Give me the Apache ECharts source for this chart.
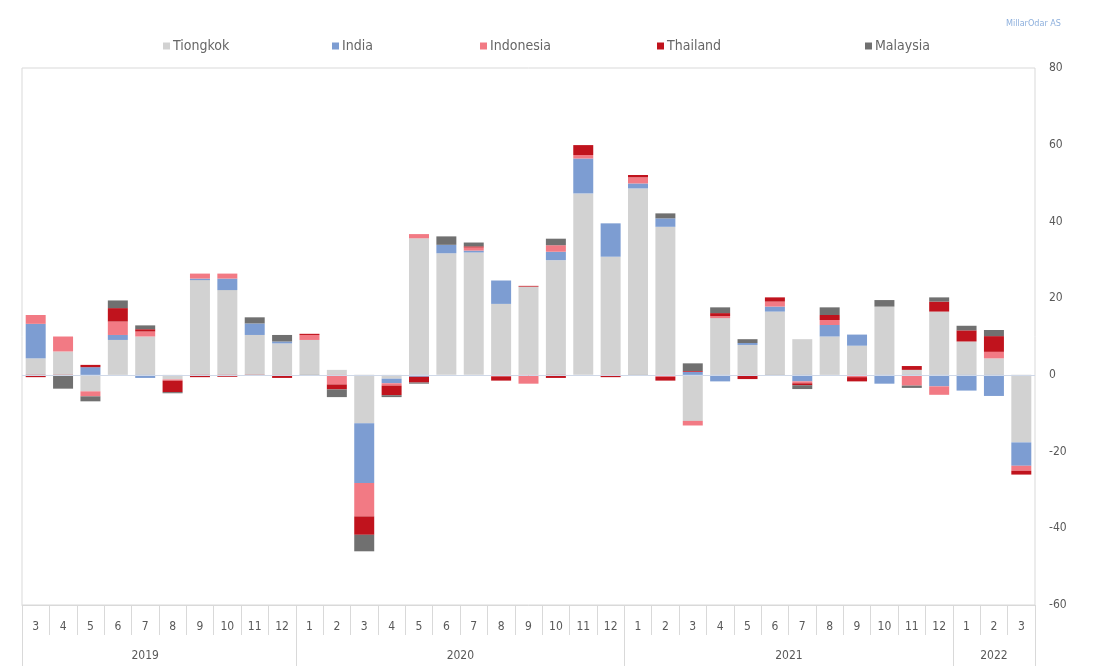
<!DOCTYPE html>
<html>
<head>
<meta charset="utf-8">
<script src="https://cdn.jsdelivr.net/npm/echarts@6/dist/echarts.min.js"></script>
<style>
html,body{margin:0;padding:0;background:#fff;}
#chart{width:1094px;height:666px;}
</style>
</head>
<body>
<div id="chart"></div>
<script>
// Month of each bar (2019-3 .. 2022-3)
const months = [3,4,5,6,7,8,9,10,11,12, 1,2,3,4,5,6,7,8,9,10,11,12, 1,2,3,4,5,6,7,8,9,10,11,12, 1,2,3];
const years  = [2019,2019,2019,2019,2019,2019,2019,2019,2019,2019,
                2020,2020,2020,2020,2020,2020,2020,2020,2020,2020,2020,2020,
                2021,2021,2021,2021,2021,2021,2021,2021,2021,2021,2021,2021,
                2022,2022,2022];
const yearLabels = ['2019','2020','2021','2022'];
const yTicks = [-60,-40,-20,0,20,40,60,80];

const seriesNames = ['Tiongkok','India','Indonesia','Thailand','Malaysia'];
const tiongkok  = [4.3,6.1,-4.3,9.1,10.0,-1.2,24.7,22.1,10.4,8.2, 9.1,1.3,-12.6,-1.0,35.6,31.7,31.9,18.5,23.0,29.9,47.3,30.8, 48.6,38.6,-12.0,14.8,7.8,16.5,9.3,10.0,7.6,17.8,1.3,16.5, 8.7,4.3,-17.6];
const india     = [9.0,0,2.0,1.3,-0.8,0,0.4,3.0,3.0,0.5, 0,0,-15.6,-1.2,-0.5,2.2,0.5,6.1,0,2.2,9.1,8.7, 1.3,2.2,0.8,-1.7,0.5,1.3,-1.7,3.0,2.9,-2.3,-0.3,-3.0, -4.1,-5.5,-6.1];
const indonesia = [2.3,3.9,-1.3,3.5,1.3,-0.3,1.3,1.3,0,-0.3, 1.3,-2.5,-8.7,-0.6,1.1,0,0.8,-0.4,-2.3,1.7,0.9,-0.3, 1.6,-0.5,-1.2,0.5,-0.3,1.3,-0.5,1.3,-0.6,0,-2.5,-2.2, 0,1.7,-1.3];
const thailand  = [-0.6,-0.3,0.6,3.5,0.6,-3.0,-0.6,-0.5,-0.3,-0.5, 0.3,-1.3,-4.8,-2.5,-1.5,0,0.3,-1.1,0.2,-0.8,2.6,-0.3, 0.6,-1.0,0.2,0.8,-0.8,1.1,-0.5,1.3,-1.1,0,1.0,2.6, 2.9,4.1,-1.0];
const malaysia  = [0,-3.3,-1.3,2.0,1.0,-0.3,0,0,1.6,1.7, -0.3,-2.0,-4.3,-0.5,-0.3,2.2,1.0,0,0,1.7,0,0, -0.3,1.3,2.0,1.5,1.0,-0.3,-1.0,2.0,0,1.7,-0.6,1.1, 1.2,1.6,0];
const seriesData = [tiongkok, india, indonesia, thailand, malaysia];
const colors = ['#d2d2d2','#7d9dd2','#f27a84','#c0131d','#707070'];

const FONT = "'Liberation Sans Narrow','DejaVu Sans Condensed','Liberation Sans',sans-serif";
const TXT = '#595959';
const LINE = '#d9d9d9';

const categories = months.map((m,i)=> years[i] + '-' + m);

// which category carries each year label, and whether it is shifted half a band right
const yearLabelAt = {4: {label: yearLabels[0], half: false},
                     15: {label: yearLabels[1], half: true},
                     27: {label: yearLabels[2], half: true},
                     35: {label: yearLabels[3], half: false}};

const legendLeft = [158, 327, 475, 652, 860];

const chart = echarts.init(document.getElementById('chart'), null, {renderer:'canvas'});
const option = {
  backgroundColor: '#fff',
  animation: false,
  title: {
    text: 'MillarOdar AS',
    right: 28, top: 14,
    textStyle: {fontSize: 9, color: '#8eb0dd', fontWeight: 'normal', fontFamily: FONT}
  },
  legend: seriesNames.map((n,i)=>({
    data: [n],
    left: legendLeft[i], top: 34,
    itemWidth: 7, itemHeight: 7, icon: 'rect', itemGap: 4,
    textStyle: {fontSize: 14, color: '#666666', fontFamily: FONT, padding: [0,0,0,-2]}
  })),
  grid: [
    {left: 22, right: 59, top: 68, bottom: 61, show: true, borderColor: LINE, borderWidth: 1},
    {left: 22, right: 59, top: 68, bottom: 61, show: false}
  ],
  xAxis: [
    {
      type: 'category', gridIndex: 0, data: categories, position: 'bottom',
      axisLine: {show: true, onZero: false, lineStyle: {color: LINE}},
      axisTick: {show: true, interval: 0, length: 30, lineStyle: {color: LINE}},
      axisLabel: {interval: 0, margin: 16, fontSize: 12, color: TXT, fontFamily: FONT,
                  formatter: (v, i) => String(months[i])},
      splitLine: {show: false}
    },
    {
      type: 'category', gridIndex: 1, data: categories, position: 'bottom',
      axisLine: {show: false},
      axisTick: {show: true, length: 61, lineStyle: {color: LINE},
                 interval: (i) => i === 0 || (i > 0 && years[i] !== years[i-1])},
      axisLabel: {
        margin: 45, fontSize: 12, color: TXT, fontFamily: FONT,
        interval: (i) => yearLabelAt[i] !== undefined,
        formatter: (v, i) => {
          const o = yearLabelAt[i];
          if (!o) return '';
          return o.half ? '{h|' + o.label + '}' : '{n|' + o.label + '}';
        },
        rich: {
          n: {fontSize: 12, color: TXT, fontFamily: FONT},
          h: {fontSize: 12, color: TXT, fontFamily: FONT, padding: [0,0,0,28]}
        }
      },
      splitLine: {show: false}
    }
  ],
  yAxis: [
    {
      type: 'value', gridIndex: 0, position: 'right',
      min: yTicks[0], max: yTicks[yTicks.length-1], interval: 20,
      axisLine: {show: false}, axisTick: {show: false},
      splitLine: {show: false},
      axisLabel: {margin: 14, fontSize: 12, color: TXT, fontFamily: FONT}
    },
    {type: 'value', gridIndex: 1, show: false, min: 0, max: 1}
  ],
  series: seriesNames.map((n,i)=>({
    name: n, type: 'bar', stack: 'total', xAxisIndex: 0, yAxisIndex: 0,
    barWidth: '73%',
    data: seriesData[i],
    itemStyle: {color: colors[i]},
    emphasis: {disabled: true},
    markLine: i === 0 ? {
      silent: true, symbol: ['none','none'], label: {show: false},
      lineStyle: {color: '#cfd8e8', width: 1, type: 'solid'},
      data: [{yAxis: 0}]
    } : undefined
  }))
};
chart.setOption(option);
</script>
</body>
</html>
